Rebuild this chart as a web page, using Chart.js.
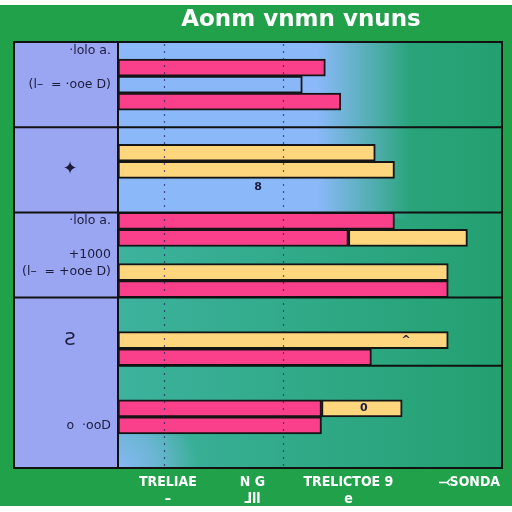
<!DOCTYPE html>
<html>
<head>
<meta charset="utf-8">
<style>
  html, body { margin: 0; padding: 0; background: #fff; }
  canvas { display: block; }
</style>
<script src="https://cdn.jsdelivr.net/npm/chart.js@4"></script>
</head>
<body>
<canvas id="chart" width="512" height="512"></canvas>
<script>
// rows of the chart, top to bottom; only some rows carry a visible label
const rowLabels = [
  '·lolo a.', '', '(l–  = ·ooe D)', '', '',
  '', '', '', '', '',
  '·lolo a.', '', '+1000', '(l–  = +ooe D)', '',
  '', '', '', '', '',
  '', '', 'o  ·ooD', '', ''
];
const pinkValues   = [null, 54, null, 58, null,  null, null, null, null, null,  72, 60, null, null, 86,  null, null, null, 66, null,  null, 53, 53, null, null];
const yellowValues = [null, null, null, null, null,  null, 67, 72, null, null,  null, 31, null, 86, null,  null, null, 86, null, null,  null, 21, null, null, null];
const blueValues   = [null, null, 48, null, null,  null, null, null, null, null,  null, null, null, null, null,  null, null, null, null, null,  null, null, null, null, null];

const xTickValues = [13, 35, 60, 91.5];
const xTickLabels = [['TRELIAE', '–'], ['N G', 'ᒧll'], ['TRELICTOE 9', 'e'], ['⤙SONDA', '']];
const xGridValues = [12, 43];

// group separators (after row index), full = also across the label panel
const groupBreaks = [4, 9, 14];
const innerBreaks = [18];
const groupSymbols = [{ row: 7, text: '✦' }, { row: 17, text: 'Ƨ' }];
const barNotes = [{ row: 8, value: 36.5, text: '8' }, { row: 17, value: 75, text: '^' }, { row: 21, value: 64, text: '0' }];

const titleText = 'Aonm vnmn vnuns';

const pink = '#fa3f8b';
const yellow = '#fdd67e';
const blue = '#8ab7f7';

const frame = {
  id: 'frame',
  beforeDraw(chart) {
    const { ctx, chartArea: a } = chart;
    ctx.save();
    ctx.fillStyle = '#ffffff';
    ctx.fillRect(0, 0, chart.width, chart.height);
    ctx.fillStyle = '#21a24a';
    ctx.fillRect(0, 5, chart.width, 501);
    // label panel
    ctx.fillStyle = '#9aa6f2';
    ctx.fillRect(14, a.top, a.left - 14, a.bottom - a.top);
    // plot background
    let g = ctx.createLinearGradient(a.left, 0, a.right, 0);
    g.addColorStop(0, '#3db29e');
    g.addColorStop(1, '#23a070');
    ctx.fillStyle = g;
    ctx.fillRect(a.left, a.top, a.right - a.left, a.bottom - a.top);
    const y = chart.scales.y;
    const blueBottom = (y.getPixelForValue(9) + y.getPixelForValue(10)) / 2 + 6;
    g = ctx.createLinearGradient(a.left, 0, a.right, 0);
    g.addColorStop(0, 'rgba(138,184,248,1)');
    g.addColorStop(0.52, 'rgba(138,184,248,1)');
    g.addColorStop(0.76, 'rgba(138,184,248,0)');
    ctx.fillStyle = g;
    ctx.fillRect(a.left, a.top, a.right - a.left, blueBottom - a.top);
    const top = y.getPixelForValue(22);
    g = ctx.createRadialGradient(a.left, a.bottom, 0, a.left, a.bottom, 80);
    g.addColorStop(0, 'rgba(138,184,248,0.95)');
    g.addColorStop(0.5, 'rgba(138,184,248,0.6)');
    g.addColorStop(1, 'rgba(138,184,248,0)');
    ctx.fillStyle = g;
    ctx.fillRect(a.left, top, 100, a.bottom - top);
    ctx.restore();
  },
  afterDatasetsDraw(chart) {
    const { ctx, chartArea: a } = chart;
    const x = chart.scales.x, y = chart.scales.y;
    ctx.save();
    // dotted grid
    ctx.setLineDash([2, 5]);
    ctx.lineWidth = 1.2;
    ctx.strokeStyle = 'rgba(30,30,90,0.7)';
    xGridValues.forEach(v => {
      const px = Math.round(x.getPixelForValue(v)) + 0.5;
      ctx.beginPath();
      ctx.moveTo(px, a.top + 2);
      ctx.lineTo(px, a.bottom - 2);
      ctx.stroke();
    });
    ctx.setLineDash([]);
    // separators
    ctx.strokeStyle = '#111';
    ctx.lineWidth = 2;
    const mid = r => (y.getPixelForValue(r) + y.getPixelForValue(r + 1)) / 2;
    groupBreaks.forEach(r => {
      ctx.beginPath(); ctx.moveTo(14, mid(r)); ctx.lineTo(a.right, mid(r)); ctx.stroke();
    });
    innerBreaks.forEach(r => {
      ctx.beginPath(); ctx.moveTo(a.left, mid(r)); ctx.lineTo(a.right, mid(r)); ctx.stroke();
    });
    ctx.strokeRect(14, a.top, a.right - 14, a.bottom - a.top);
    ctx.beginPath(); ctx.moveTo(a.left, a.top); ctx.lineTo(a.left, a.bottom); ctx.stroke();
    // small texts
    ctx.fillStyle = '#1c1c3c';
    ctx.textAlign = 'center';
    ctx.textBaseline = 'middle';
    ctx.font = '18px "DejaVu Sans"';
    groupSymbols.forEach(s => ctx.fillText(s.text, (14 + a.left) / 2 + 4, y.getPixelForValue(s.row)));
    ctx.font = 'bold 11px "DejaVu Sans"';
    barNotes.forEach(n => ctx.fillText(n.text, x.getPixelForValue(n.value), y.getPixelForValue(n.row)));
    // title
    ctx.fillStyle = '#ffffff';
    ctx.font = 'bold 23px "DejaVu Sans"';
    ctx.fillText(titleText, 301, 20);
    ctx.restore();
  }
};

const barStyle = { borderColor: '#151515', borderWidth: 2, borderSkipped: false, barPercentage: 1, categoryPercentage: 1 };

new Chart(document.getElementById('chart'), {
  type: 'bar',
  data: {
    labels: rowLabels,
    datasets: [
      { label: 'pink', data: pinkValues, backgroundColor: pink, ...barStyle },
      { label: 'yellow', data: yellowValues, backgroundColor: yellow, ...barStyle },
      { label: 'blue', data: blueValues, backgroundColor: blue, ...barStyle }
    ]
  },
  options: {
    indexAxis: 'y',
    responsive: false,
    animation: false,
    layout: { padding: { top: 42, left: 14, right: 10, bottom: 8 } },
    plugins: {
      legend: { display: false },
      tooltip: { enabled: false }
    },
    scales: {
      y: {
        stacked: true,
        grid: { display: false, drawTicks: false },
        border: { display: false },
        ticks: {
          autoSkip: false,
          padding: 7,
          color: '#1c1c3c',
          font: { family: 'DejaVu Sans', size: 12.5 }
        },
        afterFit: s => { s.width = 104; }
      },
      x: {
        stacked: true,
        min: 0,
        max: 100,
        grid: { display: false, drawTicks: false },
        border: { display: false },
        afterBuildTicks: s => { s.ticks = xTickValues.map(v => ({ value: v })); },
        ticks: {
          autoSkip: false,
          maxRotation: 0,
          padding: 6,
          color: '#ffffff',
          font: { family: '"DejaVu Sans Condensed", "DejaVu Sans", sans-serif', size: 14, weight: 'bold' },
          callback: (v, i) => xTickLabels[i]
        },
        afterFit: s => { s.height = 36; }
      }
    }
  },
  plugins: [frame]
});
</script>
</body>
</html>
